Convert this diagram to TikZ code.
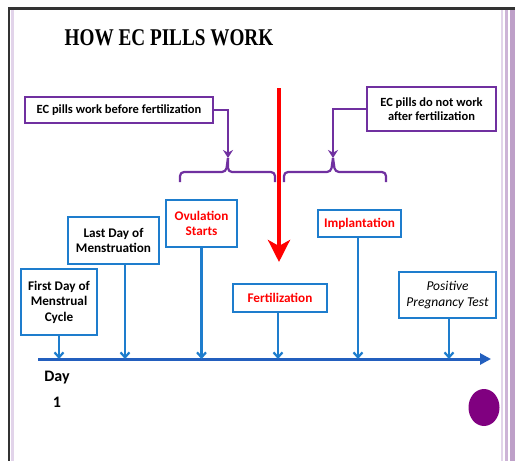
\documentclass[tikz,border=0pt]{standalone}
\usepackage{fontspec}
\setmainfont{Carlito}
\newfontfamily\titlefont{Liberation Serif}[FakeStretch=0.8]
\usetikzlibrary{arrows.meta}
\definecolor{boxblue}{RGB}{30,125,205}
\definecolor{axisblue}{RGB}{35,95,190}
\definecolor{ecpurple}{RGB}{112,48,160}
\definecolor{dotpurple}{RGB}{128,0,128}
\definecolor{lav}{RGB}{226,212,234}
\definecolor{lavmid}{RGB}{205,180,215}
\definecolor{lavdark}{RGB}{190,160,200}
\tikzset{
  bbox/.style={draw=boxblue, line width=2.5pt, fill=white, align=center, inner sep=2pt,
    font=\fontsize{13.2}{15.5}\selectfont\bfseries},
  pbox/.style={draw=ecpurple, line width=2.4pt, fill=white, align=center, inner sep=2pt,
    font=\fontsize{12.5}{14.5}\selectfont\bfseries},
  barrow/.style={draw=boxblue, line width=2.2pt, -{Straight Barb[length=5pt,width=9pt]}},
  parrow/.style={draw=ecpurple, line width=2.2pt, -{Stealth[length=8pt,width=10pt]}},
  brace/.style={draw=ecpurple, line width=2.2pt, rounded corners=4pt},
  lbl/.style={font=\fontsize{16}{18}\selectfont\bfseries}
}
\begin{document}
\begin{tikzpicture}[x=1pt,y=-1pt]
\useasboundingbox (0,0) rectangle (515,461);
\fill[white] (0,0) rectangle (515,461);
% frame
\fill[lav] (11,10) rectangle (14,461);
\fill[lav] (500.5,10) rectangle (503,461);
\fill[lavmid] (505,10) rectangle (508,461);
\fill[lavdark] (509.5,10) rectangle (515,461);
\draw[black!80, line width=2.5pt] (9,461) -- (9,8.5) -- (515,8.5);
% title
\node[font=\titlefont\bfseries\fontsize{24}{28}\selectfont] (title) at (169,38) {HOW EC PILLS WORK};
% purple boxes
\node[pbox, minimum width=188pt, minimum height=26pt] (before) at (119,110) {EC pills work before fertilization};
\node[pbox, minimum width=129pt, minimum height=44pt] (after) at (431.5,109) {EC pills do not work\\after fertilization};
% braces
\coordinate (b1m) at (228,158);
\coordinate (b2m) at (333,158);
\draw[brace] (180,182) |- (226,172) -- (b1m);
\draw[brace] (b1m) -- (228,172) -| (275,182);
\draw[brace] (284,182) |- (331,172) -- (b2m);
\draw[brace] (b2m) -- (335,172) -| (386,182);
\draw[parrow] (before.east) -| (b1m);
\draw[parrow] (after.west) -| (b2m);
% red arrow
\coordinate (rtop) at (279,88);
\coordinate (rbot) at (279,262);
\draw[red, line width=4.5pt, -{Stealth[length=22pt,width=22pt,inset=6pt]}] (rtop) -- (rbot);
% axis
\coordinate (axS) at (38,359);
\coordinate (axE) at (491,359);
\draw[axisblue, line width=3pt, -{Triangle[length=11pt,width=11pt]}] (axS) -- (axE);
% blue boxes
\node[bbox, minimum width=76pt, minimum height=66pt] (first) at (59,302) {First Day of\\Menstrual\\Cycle};
\node[bbox, minimum width=91pt, minimum height=47pt] (last) at (113.5,240.5) {Last Day of\\Menstruation};
\node[bbox, minimum width=71pt, minimum height=47pt, text=red] (ovul) at (201.5,223.5) {Ovulation\\Starts};
\node[bbox, minimum width=94pt, minimum height=28pt, text=red] (fert) at (280,298) {Fertilization};
\node[bbox, minimum width=83pt, minimum height=27pt, text=red] (impl) at (359.5,223.5) {Implantation};
\node[bbox, minimum width=97pt, minimum height=46pt, font=\fontsize{13.5}{15.5}\selectfont\itshape] (pos) at (447.5,295) {Positive\\Pregnancy Test};
\draw[barrow] (first.south) -- (first.south |- axS);
\draw[barrow] ([xshift=11.5pt]last.south) -- ([xshift=11.5pt]last.south |- axS);
\draw[barrow] (ovul.south) -- (ovul.south |- axS);
\draw[barrow] ([xshift=-2pt]fert.south) -- ([xshift=-2pt]fert.south |- axS);
\draw[barrow] ([xshift=-1.5pt]impl.south) -- ([xshift=-1.5pt]impl.south |- axS);
\draw[barrow] ([xshift=1.5pt]pos.south) -- ([xshift=1.5pt]pos.south |- axS);
% day label
\node[lbl] (day) at (57,378) {Day};
\node[lbl] (one) at (57,402) {1};
% dot
\fill[dotpurple] (484,407.5) ellipse [x radius=15.5pt, y radius=18.5pt];
\end{tikzpicture}
\end{document}
